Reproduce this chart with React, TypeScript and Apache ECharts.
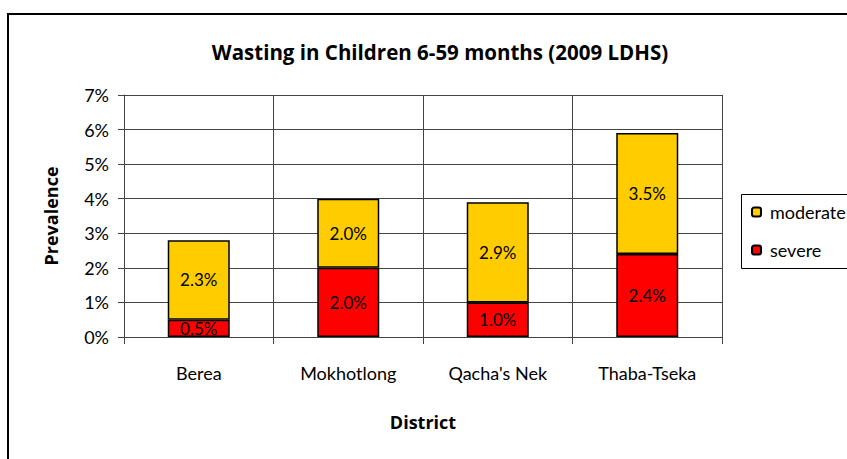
import React, { useEffect, useRef } from "react";
import * as echarts from "echarts";

const categories = ["Berea", "Mokhotlong", "Qacha's Nek", "Thaba-Tseka"];
const severe = [0.5, 2.0, 1.0, 2.4];
const moderate = [2.3, 2.0, 2.9, 3.5];
const yTicks = [0, 1, 2, 3, 4, 5, 6, 7];

const FONT = "Lato";
const BOLD = "Open Sans";

export default function App() {
  const ref = useRef<HTMLDivElement>(null);
  useEffect(() => {
    if (!ref.current) return;
    const chart = echarts.init(ref.current, undefined, { renderer: "svg" });
    const labelOpt = {
      show: true,
      position: "inside",
      color: "#000",
      fontFamily: FONT,
      fontSize: 17,
      formatter: (p: any) => p.value.toFixed(1) + "%",
    };
    chart.setOption({
      animation: false,
      backgroundColor: "#fff",
      title: {
        text: "Wasting in Children 6-59 months (2009 LDHS)",
        left: 435,
        top: 36,
        textAlign: "center",
        textStyle: { fontFamily: BOLD, fontWeight: "bold", fontSize: 20.5, color: "#000" },
      },
      graphic: [
        {
          type: "rect",
          shape: { x: 8, y: 14, width: 900, height: 500 },
          style: { fill: "none", stroke: "#000", lineWidth: 2 },
          silent: true,
        },
        {
          type: "rect",
          shape: { x: 741.5, y: 194.5, width: 120, height: 74 },
          style: { fill: "#fff", stroke: "#000", lineWidth: 1 },
          silent: true,
          z: 5,
        },
      ],
      legend: {
        orient: "vertical",
        left: 746,
        top: 198,
        itemWidth: 9,
        itemHeight: 9,
        itemGap: 20,
        z: 10,
        data: ["moderate", "severe"],
        textStyle: { fontFamily: FONT, fontSize: 18, color: "#000", padding: [0, 0, 0, 4] },
      },
      grid: { left: 124, right: 125, top: 95, bottom: 122 },
      xAxis: {
        type: "category",
        data: categories,
        name: "District",
        nameLocation: "middle",
        nameGap: 76,
        nameTextStyle: { fontFamily: BOLD, fontWeight: "bold", fontSize: 18, color: "#000" },
        axisLine: { lineStyle: { color: "#444" } },
        axisTick: { show: true, length: 7, lineStyle: { color: "#444" } },
        axisLabel: { fontFamily: FONT, fontSize: 18, color: "#000", margin: 27 },
        splitLine: { show: true, lineStyle: { color: "#444" } },
      },
      yAxis: {
        type: "value",
        min: 0,
        max: 7,
        interval: 1,
        name: "Prevalence",
        nameLocation: "middle",
        nameGap: 64,
        nameTextStyle: { fontFamily: BOLD, fontWeight: "bold", fontSize: 18, color: "#000" },
        axisLine: { show: true, lineStyle: { color: "#444" } },
        axisTick: { show: true, length: 6, lineStyle: { color: "#444" } },
        axisLabel: {
          fontFamily: FONT,
          fontSize: 18,
          color: "#000",
          margin: 15,
          formatter: (v: number) => (yTicks.includes(v) ? v + "%" : ""),
        },
        splitLine: { show: true, lineStyle: { color: "#444" } },
      },
      series: [
        {
          name: "severe",
          type: "bar",
          stack: "total",
          data: severe,
          barWidth: 62,
          itemStyle: { color: "#FF0000", borderColor: "#000", borderWidth: 1.5 },
          label: labelOpt,
        },
        {
          name: "moderate",
          type: "bar",
          stack: "total",
          data: moderate,
          barWidth: 62,
          itemStyle: { color: "#FFCC00", borderColor: "#000", borderWidth: 1.5 },
          label: labelOpt,
        },
      ],
    });
    return () => chart.dispose();
  }, []);
  return (
    <div
      ref={ref}
      style={{ position: "absolute", left: 0, top: 0, width: 847, height: 459 }}
    />
  );
}
